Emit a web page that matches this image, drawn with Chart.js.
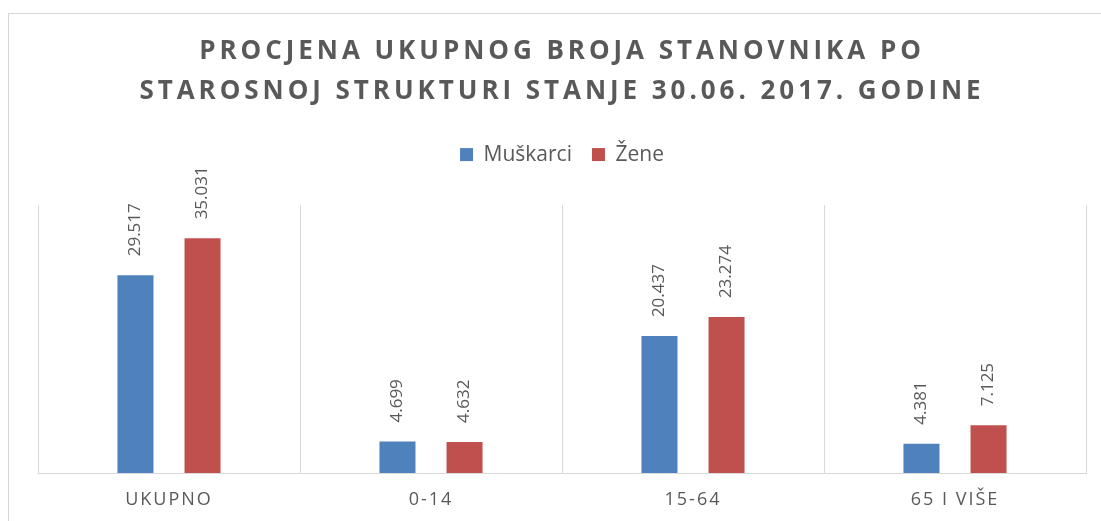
<!DOCTYPE html>
<html>
<head>
<meta charset="utf-8">
<script src="https://cdn.jsdelivr.net/npm/chart.js@4.4.1/dist/chart.umd.min.js"></script>
<style>
  html, body { margin: 0; padding: 0; background: #fff; overflow: hidden; }
  #frame { position: absolute; left: 8px; top: 13px; width: 1300px; height: 700px;
           border-left: 1px solid #d6d6d6; border-top: 1px solid #d6d6d6; }
  #chart { position: absolute; left: 0; top: 0; }
</style>
</head>
<body>
<div id="frame"></div>
<canvas id="chart" width="1124" height="521"></canvas>
<script>
const categories = ["UKUPNO", "0-14", "15-64", "65 I VIŠE"];
const seriesNames = ["Muškarci", "Žene"];
const muskarci = [29517, 4699, 20437, 4381];
const zene = [35031, 4632, 23274, 7125];
const titleLines = ["PROCJENA UKUPNOG BROJA STANOVNIKA PO", "STAROSNOJ STRUKTURI STANJE 30.06. 2017. GODINE"];

const gray = "#595959";

function fmt(v){
  return String(v).replace(/\B(?=(\d{3})+(?!\d))/g, ".");
}

// draw a box with its own letter spacing
function spaced(box, sp){
  const draw = box.draw;
  box.draw = function(area){
    const c = this.ctx;
    const old = c.letterSpacing;
    c.letterSpacing = sp;
    draw.call(this, area);
    c.letterSpacing = old;
  };
}

const excelLook = {
  id: "excelLook",
  afterInit(chart){
    spaced(chart.titleBlock, "3.95px");
    spaced(chart.legend, "0px");
    // extra space between legend and plot area
    const fit = chart.legend.fit;
    chart.legend.fit = function(){
      fit.call(this);
      this.height += 30;
    };
  },
  beforeDraw(chart){
    chart.ctx.letterSpacing = "2px";
  },
  afterDatasetsDraw(chart){
    const ctx = chart.ctx;
    ctx.save();
    ctx.letterSpacing = "0px";
    ctx.font = "17px 'Open Sans'";
    ctx.fillStyle = gray;
    ctx.textAlign = "left";
    ctx.textBaseline = "middle";
    chart.data.datasets.forEach((ds, i) => {
      chart.getDatasetMeta(i).data.forEach((bar, j) => {
        ctx.save();
        ctx.translate(bar.x, bar.y - 19);
        ctx.rotate(-Math.PI / 2);
        ctx.fillText(fmt(ds.data[j]), 0, 0);
        ctx.restore();
      });
    });
    ctx.restore();
  },
  afterDraw(chart){
    chart.ctx.letterSpacing = "0px";
  }
};

new Chart(document.getElementById("chart"), {
  type: "bar",
  data: {
    labels: categories,
    datasets: [
      { label: seriesNames[0], data: muskarci, backgroundColor: "#4f81bd" },
      { label: seriesNames[1], data: zene, backgroundColor: "#c0504d" }
    ]
  },
  options: {
    responsive: false,
    animation: false,
    categoryPercentage: 0.512,
    barPercentage: 0.537,
    layout: { padding: { left: 38, right: 38, top: 0, bottom: 12 } },
    plugins: {
      tooltip: { enabled: false },
      title: {
        display: true,
        text: titleLines,
        color: gray,
        font: { family: "'Open Sans'", size: 26, weight: "bold", lineHeight: 1.54 },
        padding: { top: 32, bottom: 12 }
      },
      legend: {
        display: true,
        position: "top",
        labels: {
          color: gray,
          font: { family: "'Open Sans'", size: 21 },
          boxWidth: 13,
          boxHeight: 13,
          padding: 20
        }
      }
    },
    scales: {
      x: {
        grid: { color: "#d9d9d9", drawTicks: false, offset: true },
        border: { color: "#d9d9d9" },
        ticks: {
          color: gray,
          padding: 16,
          font: { family: "'Open Sans'", size: 18 }
        },
        afterFit(scale){
          scale.height = 36;
        }
      },
      y: {
        display: false,
        min: 0,
        max: 40000
      }
    }
  },
  plugins: [excelLook]
});
</script>
</body>
</html>
